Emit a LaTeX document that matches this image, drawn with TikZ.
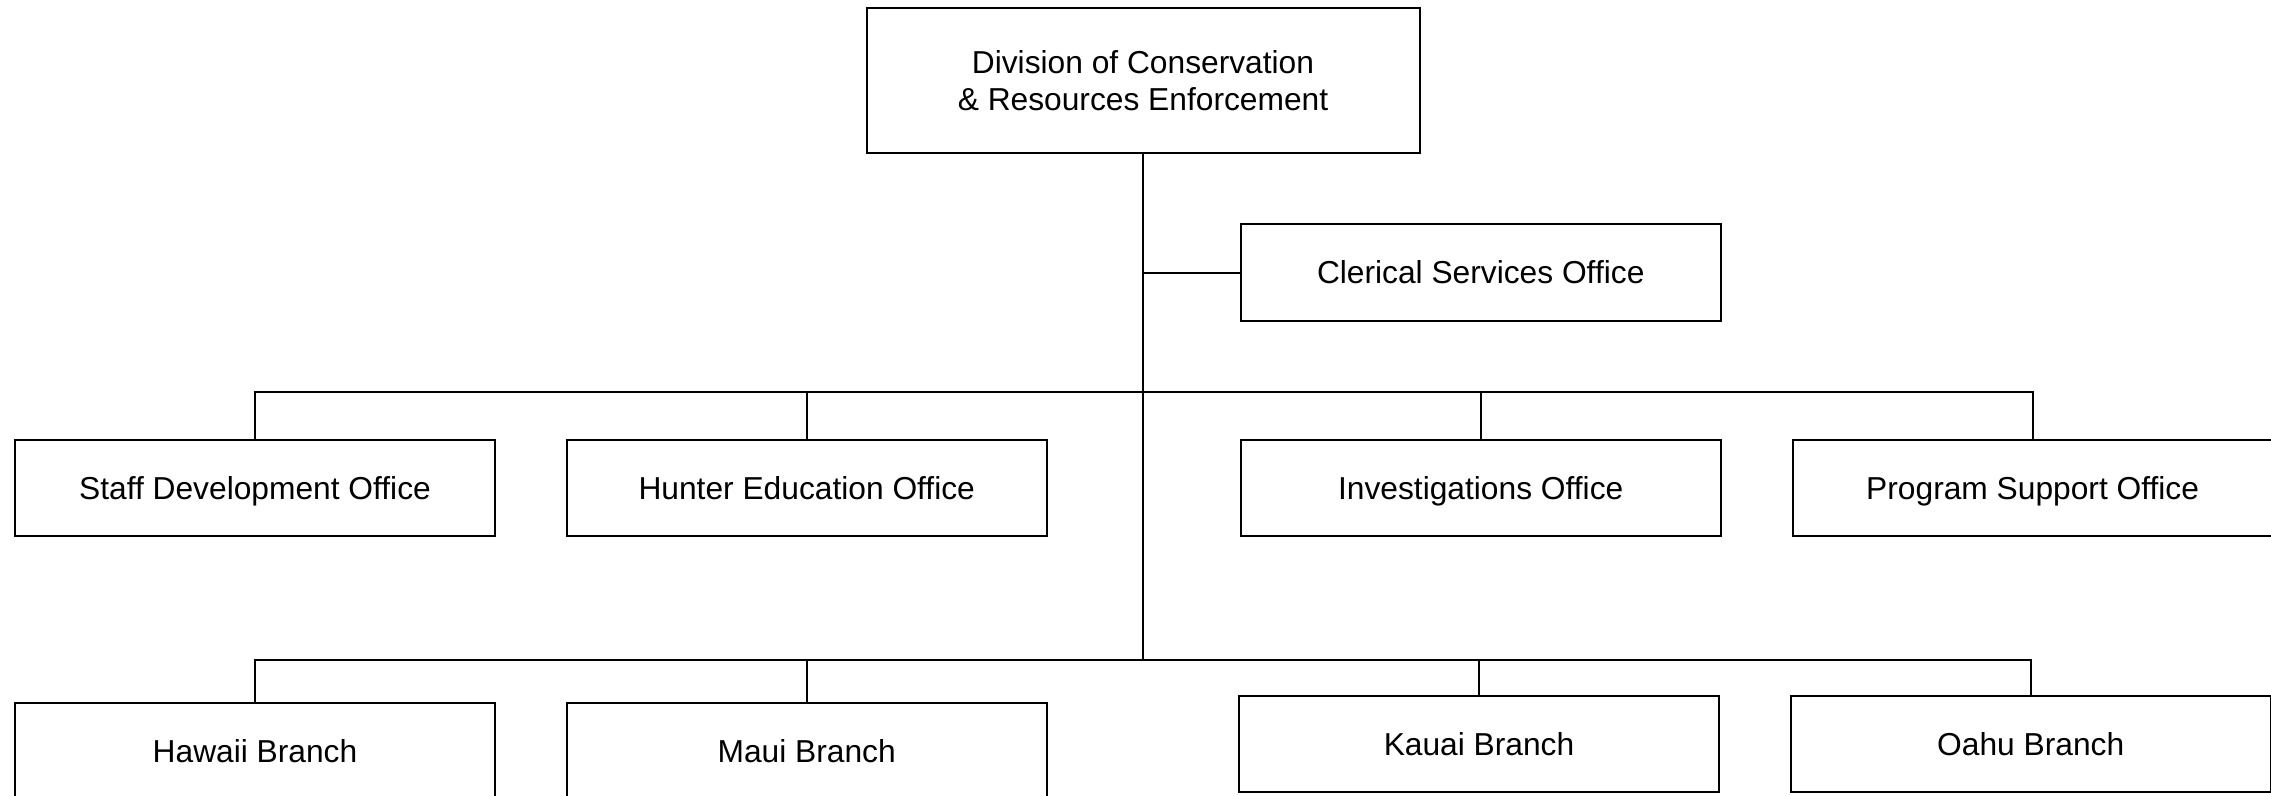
\documentclass[tikz,border=0pt]{standalone}
\usepackage{fontspec}
\setmainfont{Liberation Sans}

\tikzset{every picture/.style={line width=1.5pt}}
\tikzset{orgbox/.style={draw, rectangle, inner sep=0pt, minimum width=360pt, minimum height=72pt, align=center, font=\fontsize{23.8}{28.2}\selectfont}}
\tikzset{oneline/.style={orgbox, text height=17pt, text depth=0pt}}

\begin{document}
\begin{tikzpicture}[x=0.75pt,y=0.75pt,yscale=-1,xscale=1]
%set diagram left start at 0, and has height of 796
\useasboundingbox (0,0) rectangle (2271,796);

%Shape: Rectangle [id:division]
\node [orgbox, minimum width=414.75pt, minimum height=108.75pt] (division) at (1143,80.5) {Division of Conservation\\\& Resources Enforcement};
%Shape: Rectangle [id:clerical]
\node [oneline, minimum height=72.5pt] (clerical) at (1480.7,272.5) {Clerical Services Office};

%Shape: Rectangle [id:staff]
\node [oneline] (staff) at (255,488) {Staff Development Office};
%Shape: Rectangle [id:hunter]
\node [oneline] (hunter) at (806.7,488) {Hunter Education Office};
%Shape: Rectangle [id:investig]
\node [oneline] (investig) at (1480.7,488) {Investigations Office};
%Shape: Rectangle [id:progsupp]
\node [oneline] (progsupp) at (2032.6,488) {Program Support Office};

%Shape: Rectangle [id:hawaii]
\node [oneline] (hawaii) at (255,750.7) {Hawaii Branch};
%Shape: Rectangle [id:maui]
\node [oneline] (maui) at (806.7,750.7) {Maui Branch};
%Shape: Rectangle [id:kauai]
\node [oneline] (kauai) at (1479,744) {Kauai Branch};
%Shape: Rectangle [id:oahu]
\node [oneline] (oahu) at (2030.7,744) {Oahu Branch};

%bus points
\coordinate (bus1) at (1143,391.7);
\coordinate (bus2) at (1143,660);

%Straight Lines [id:trunk]
\draw (division.south) -- (division.south |- bus2);
%Straight Lines [id:clerical]
\draw (division.south |- clerical.west) -- (clerical.west);
%Straight Lines [id:offices]
\draw (staff.north) |- (bus1) -| (progsupp.north);
\draw (hunter.north) -- (hunter.north |- bus1);
\draw (investig.north) -- (investig.north |- bus1);
%Straight Lines [id:branches]
\draw (hawaii.north) |- (bus2) -| (oahu.north);
\draw (maui.north) -- (maui.north |- bus2);
\draw (kauai.north) -- (kauai.north |- bus2);

\end{tikzpicture}
\end{document}
